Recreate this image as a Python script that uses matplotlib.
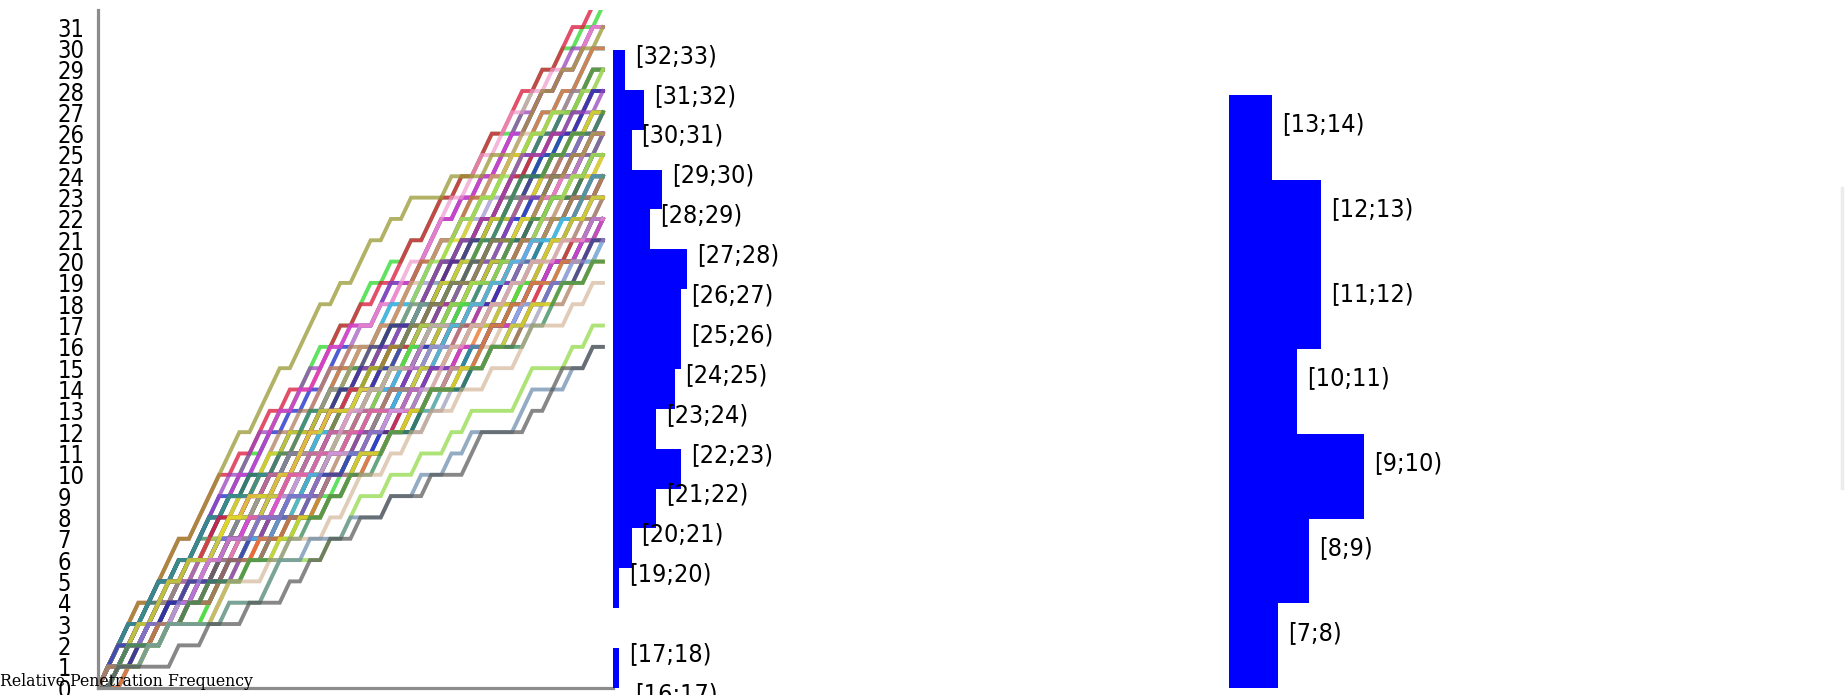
import numpy as np
import matplotlib
matplotlib.use("Agg")
import matplotlib.pyplot as plt
from matplotlib.lines import Line2D

# one string per ball, 50 rows of pins: "/" = bounced up one level, "_" = stayed level
walks= [
"///_//_/_/ /_///_//_/ //_/_//_/_ /_//_/_//_ _///_/_/_/",
"////_///_/ //_/_//_/_ _///_/_/_/ /_//_/_//_ //_/_//_/_",
"///_//_/_/ //_/_//_/_ /_//_/_//_ _///_/_/_/ /_//_/_//_",
"/_///_//_/ ///_//_/_/ /_/_/__//_ _///_/_/_/ //_/_//_/_",
"//_/_//_/_ ////_///_/ _//_/__/_/ _///_/_/_/ /_//_/_//_",
"_///_/_/_/ /_//_/_//_ ///_//_/_/ /_///_//_/ /_/_/__//_",
"////_///_/ ////_///_/ //_/_//_/_ /___/___/_ _///_/_/_/",
"//_/_//_/_ //_/_//_/_ /_//_/_//_ _///_/_/_/ /_//_/_//_",
"///_//_/_/ /_/_/__//_ /_//_/_//_ _///_/_/_/ /_//_/_//_",
"_//_/__/_/ ///_//_/_/ _///_/_/_/ //_/_//_/_ /_//_/_//_",
"//_/_//_/_ _//_/__/_/ _///_/_/_/ //_/_//_/_ /_//_/_//_",
"///_//_/_/ /_/_/__//_ _//_/__/_/ _///_/_/_/ //_/_//_/_",
"/_//_/_//_ _///_/_/_/ /_/_/__//_ //_/_//_/_ /_//_/_//_",
"//__/_/__/ ////_///_/ _//_/__/_/ //_/_//_/_ /_/_/__//_",
"//_/_//_/_ //_/_//_/_ _/_//_/_/_ /_///_//_/ /_/_/__//_",
"/_///_//_/ _//_/__/_/ /_/_/__//_ _///_/_/_/ /_//_/_//_",
"_/_//_/_/_ //_/_//_/_ ///_//_/_/ /_//_/_//_ //__/_/__/",
"/_/_/__//_ _///_/_/_/ /_//_/_//_ ///_//_/_/ _//_/__/_/",
"//_/_//_/_ _//_/__/_/ _///_/_/_/ /_/_/__//_ /_//_/_//_",
"///_//_/_/ /_/__/__/_ /_//_/_//_ _///_/_/_/ _/_//_/_/_",
"_//_/__/_/ /_/_/__//_ //_/_//_/_ //_/_//_/_ /_//_/_//_",
"_///_/_/_/ _/_//_/_/_ _//_/__/_/ /_///_//_/ /_/_/__//_",
"/_/_/__//_ //_/_//_/_ //__/_/__/ //_/_//_/_ /_//_/_//_",
"/_//_/_//_ /_/__/__/_ ///_//_/_/ _///_/_/_/ //__/_/__/",
"/_/_/__//_ _//_/__/_/ //__/_/__/ //_/_//_/_ /_//_/_//_",
"//_/_//_/_ /_/_/__//_ _//___/_/_ _///_/_/_/ /_//_/_//_",
"_//_/__/_/ _///_/_/_/ _/_//_/_/_ //_/_//_/_ /_/_/__//_",
"///_//_/_/ /_/__/__/_ _//_/__/_/ _///_/_/_/ _/_//_/_/_",
"//__/_/__/ //_/_//_/_ /_/_/__//_ _//_/__/_/ /_//_/_//_",
"_/_//_/_/_ /_//_/_//_ __/_//__/_ //_/_//_/_ _///_/_/_/",
"/_/__/__/_ ///_//_/_/ _//_/__/_/ _///_/_/_/ /_/_/__//_",
"/_//_/_//_ //__/_/__/ //_/_//_/_ _/_//_/_/_ _//_/__/_/",
"//_/_//_/_ _//___/_/_ //_/_//_/_ _//_/__/_/ _///_/_/_/",
"_///_/_/_/ /_/_/__//_ _//_/__/_/ _/_//_/_/_ //_/_//_/_",
"/_/_/__//_ _///_/_/_/ //__/_/__/ /_//_/_//_ _/_//_/_/_",
"_//_/__/_/ //_/_//_/_ /_/__/__/_ /_///_//_/ //__/_/__/",
"/_/_/__//_ _//_/__/_/ //__/_/__/ _/_//_/_/_ //_/_//_/_",
"//_/_//_/_ /_/__/__/_ /_//_/_//_ //__/_/__/ _//_/__/_/",
"_//___/_/_ ///_//_/_/ /_/_/__//_ //__/_/__/ _//_/__/_/",
"//__/_/__/ /_//_/_//_ /_/__/__/_ //_/_//_/_ _/_//_/_/_",
"_/_//_/_/_ /_/_/__//_ /_//_/_//_ __/_//__/_ _///_/_/_/",
"//_/_//_/_ //__/_/__/ /_/_/__//_ _//___/_/_ /_//_/_//_",
"_//_/__/_/ _/_//_/_/_ _///_/_/_/ /_/_/__//_ /_/_/__//_",
"/_/__/__/_ //_/_//_/_ _//_/__/_/ _///_/_/_/ //__/_/__/",
"_///_/_/_/ _//_/__/_/ /_/__/__/_ _/_//_/_/_ //_/_//_/_",
"/_/_/__//_ /_/_/__//_ //__/_/__/ _//_/__/_/ /_//_/_//_",
"/_//_/_//_ __/_//__/_ //_/_//_/_ /_/_/__//_ _/_//_/_/_",
"/_/_/__//_ _//_/__/_/ //__/_/__/ _/_//_/_/_ /_/_/__//_",
"/_/__/__/_ /_//_/_//_ //__/_/__/ /_/_/__//_ _/_//_/_/_",
"_//_/__/_/ /_/__/__/_ //_/_//_/_ //__/_/__/ _//_/__/_/",
"_///_/_/_/ _/__/_/___ _//_/__/_/ //_/_//_/_ _/_//_/_/_",
"_/_//_/_/_ //__/_/__/ _//___/_/_ //_/_//_/_ /_/_/__//_",
"/_/_/__//_ //_/_//_/_ __/_//__/_ _//_/__/_/ //__/_/__/",
"_//___/_/_ _/_//_/_/_ /_/_/__//_ //__/_/__/ /_//_/_//_",
"//_/_//_/_ _//_/__/_/ /_/__/__/_ _/_//_/_/_ //__/_/__/",
"//__/_/__/ /_/__/__/_ /_//_/_//_ _//_/__/_/ /_/_/__//_",
"_//_/__/_/ //__/_/__/ _/_//_/_/_ /_/__/__/_ //_/_//_/_",
"_/__/_/___ //_/_//_/_ /_//_/_//_ //__/_/__/ _/_//_/_/_",
"/_/_/__//_ _//_/__/_/ __/_//__/_ _/_//_/_/_ /_/_/__//_",
"/_/__/__/_ /_/_/__//_ _//_/__/_/ //__/_/__/ _//_/__/_/",
"_//___/_/_ //__/_/__/ //_/_//_/_ /_/__/__/_ _/_//_/_/_",
"//__/_/__/ _/_//_/_/_ /_/__/__/_ _//_/__/_/ //__/_/__/",
"//_/_//_/_ _/__/_/___ _//_/__/_/ //__/_/__/ _/_//_/_/_",
"_/_//_/_/_ _//___/_/_ //__/_/__/ /_/_/__//_ _//_/__/_/",
"_//_/__/_/ /_/_/__//_ __/___//__ //_/_//_/_ //__/_/__/",
"/_/__/__/_ _///_/_/_/ _/_//_/_/_ _//___/_/_ /_/_/__//_",
"__/_//__/_ _//_/__/_/ /_/_/__//_ _/_//_/_/_ //__/_/__/",
"/_/_/__//_ /_/__/__/_ //__/_/__/ _//___/_/_ /_//_/_//_",
"/_/__/__/_ _//_/__/_/ //__/_/__/ _/_//_/_/_ /_/__/__/_",
"_//_/__/_/ /_/__/__/_ __/_//__/_ /_/_/__//_ _/_//_/_/_",
"__/_//__/_ _/_//_/_/_ /_/_/__//_ _//___/_/_ //__/_/__/",
"/_/_/__//_ _/__/_/___ _//_/__/_/ //__/_/__/ _/_//_/_/_",
"_/_//_/_/_ //__/_/__/ /_/__/__/_ _//___/_/_ /_/_/__//_",
"_//___/_/_ /_/_/__//_ _/_//_/_/_ __/_//__/_ _//_/__/_/",
"//_/_//_/_ _//___/_/_ _/__/_/___ //__/_/__/ _/_//_/_/_",
"/_/__/__/_ _//___/_/_ __/_//__/_ /_/_/__//_ _//_/__/_/",
"/_/_/__//_ _/__/_/___ _//___/_/_ //__/_/__/ _/_//_/_/_",
"_//_/__/_/ __/_//__/_ /_/__/__/_ _/_//_/_/_ /_/__/__/_",
"__/_//__/_ /_/_/__//_ __/___//__ /_/_/__//_ _//_/__/_/",
"_/_//_/_/_ _//___/_/_ /_/__/__/_ __/_//__/_ /_/_/__//_",
"_/__/_/___ //__/_/__/ _/_//_/_/_ _//___/_/_ //__/_/__/",
"_//___/_/_ /_/__/__/_ //__/_/__/ /_/__/__/_ _/_//_/_/_",
"//__/_/__/ __/___//__ /_/_/__//_ _//___/_/_ /_/_/__//_",
"/_/__/__/_ _/_//_/_/_ __/_//__/_ /_/__/__/_ _//_/__/_/",
"_//_/__/_/ /_/_/__//_ _/__/_/___ __/_//__/_ _//_/__/_/",
"/_/_/__//_ __/_//__/_ _//___/_/_ _/_//_/_/_ /_/__/__/_",
"/_/__/__/_ _//___/_/_ __/_//__/_ /_/__/__/_ _//_/__/_/",
"_/__/_/___ _//_/__/_/ __/_//__/_ _/_//_/_/_ /_/__/__/_",
"_//___/_/_ /_/_/__//_ /___/___/_ _//___/_/_ //__/_/__/",
"__/_//__/_ /_/__/__/_ _//___/_/_ /_/_/__//_ /_/__/__/_",
"/_/_/__//_ __/___//__ /_/__/__/_ __/_//__/_ _/_//_/_/_",
"_/_//_/_/_ __/_//__/_ _/__/_/___ _//___/_/_ /_/_/__//_",
"_//_/__/_/ /_/__/__/_ _//___/_/_ /___/___/_ //__/_/__/",
"/_/__/__/_ _//___/_/_ __/_//__/_ /_/__/__/_ _//___/_/_",
"_/__/_/___ _//_/__/_/ __/_//__/_ /_/__/__/_ /_/__/__/_",
"_//___/_/_ /___/___/_ /_/_/__//_ _//___/_/_ __/_//__/_",
"_/__/_/___ _//___/_/_ __/_//__/_ /_/__/__/_ _//___/_/_",
"_/__/_/___ __/___//__ __/_//__/_ _/__/_/___ _//___/_/_",
"_/__/_/___ __/___//__ /___/___/_ _/__/_/___ _//___/_/_",
"_/_____/__ /___/___/_ /_/__/__/_ __/___//__ __/_//__/_",
]
walks= [w.replace(" ","") for w in walks]
assert all(len(w)==50 for w in walks)

line_colors= ['#44dd44','#dd2244','#2233cc','#9944bb','#dd44cc','#ee99cc','#999933',
              '#339999','#44bbee','#ee7733','#8888aa','#333399','#bbaaee','#aa7755',
              '#dddd22','#338855','#ccaa88','#99dd55','#6688aa','#555555']
line_alpha= [0.85,0.8,0.8,0.75,0.75,0.7,0.75,0.75,0.8,0.8,0.6,0.75,0.45,0.7,
             0.8,0.75,0.6,0.8,0.7,0.7]

# histogram of the height after 20 rows
right_bins= [7, 8, 9, 10, 11, 12, 13]
right_freq= [0.08, 0.13, 0.22, 0.11, 0.15, 0.15, 0.07]

W= 1845
H= 695
fig= plt.figure(figsize=(W/100, H/100), dpi=100)

ax= fig.add_axes([98/W, 7/H, 515/W, 678/H])
steps= np.arange(51)
for i, w in enumerate(walks):
    ups= np.concatenate([[0], np.cumsum([c=='/' for c in w])])
    ax.plot(steps, ups, lw=2.8, color=line_colors[i % len(line_colors)],
            alpha=line_alpha[i % len(line_alpha)], solid_joinstyle='miter')
ax.set_xlim(0, 51)
ax.set_ylim(0, 31.8)
ax.set_xticks([])
ax.set_yticks(range(0, 32))
ax.tick_params(axis='y', length=0, pad=29, labelsize=17)
for t in ax.get_yticklabels():
    t.set_horizontalalignment('left')
    t.set_fontfamily('DejaVu Sans')
    t.set_fontstretch('condensed')
for s in ['top','right']:
    ax.spines[s].set_visible(False)
for s in ['left','bottom']:
    ax.spines[s].set_color('#8c8c8c')
    ax.spines[s].set_linewidth(2.3)

# final heights of all balls
finals= np.array([w.count('/') for w in walks])
mid_bins= np.arange(16, 33)
mid_freq= np.array([np.sum(finals==b) for b in mid_bins])/len(walks)

ax2= fig.add_axes([613/W, 7/H, 617/W, 678/H])
ax2.barh(mid_bins, mid_freq, height=1, align='edge', color='blue', lw=0)
for b, f in zip(mid_bins, mid_freq):
    if f > 0:
        ax2.annotate("[{};{})".format(b, b+1), (f, b+0.5), xytext=(10, 14),
                     textcoords='offset pixels', va='center', ha='left',
                     fontsize=18, family='DejaVu Sans', fontstretch='condensed',
                     annotation_clip=False)
ax2.set_xlim(0, 1)
ax2.set_ylim(17, 34)
ax2.axis('off')

ax3= fig.add_axes([1229/W, 7/H, 615/W, 678/H])
ax3.barh(right_bins, right_freq, height=1, align='edge', color='blue', lw=0)
for b, f in zip(right_bins, right_freq):
    ax3.annotate("[{};{})".format(b, b+1), (f, b+0.5), xytext=(10, 13),
                 textcoords='offset pixels', va='center', ha='left',
                 fontsize=18, family='DejaVu Sans', fontstretch='condensed',
                 annotation_clip=False)
ax3.set_xlim(0, 1)
ax3.set_ylim(7, 15)
ax3.axis('off')

fig.text(0, 9/H, "Relative Penetration Frequency", family='DejaVu Serif',
         fontsize=11.3, va='baseline', ha='left')
fig.add_artist(Line2D([1842/W, 1842/W], [1-188/H, 1-488/H], color='#ececec', lw=2.5))

fig.savefig("out.png", dpi=100)
